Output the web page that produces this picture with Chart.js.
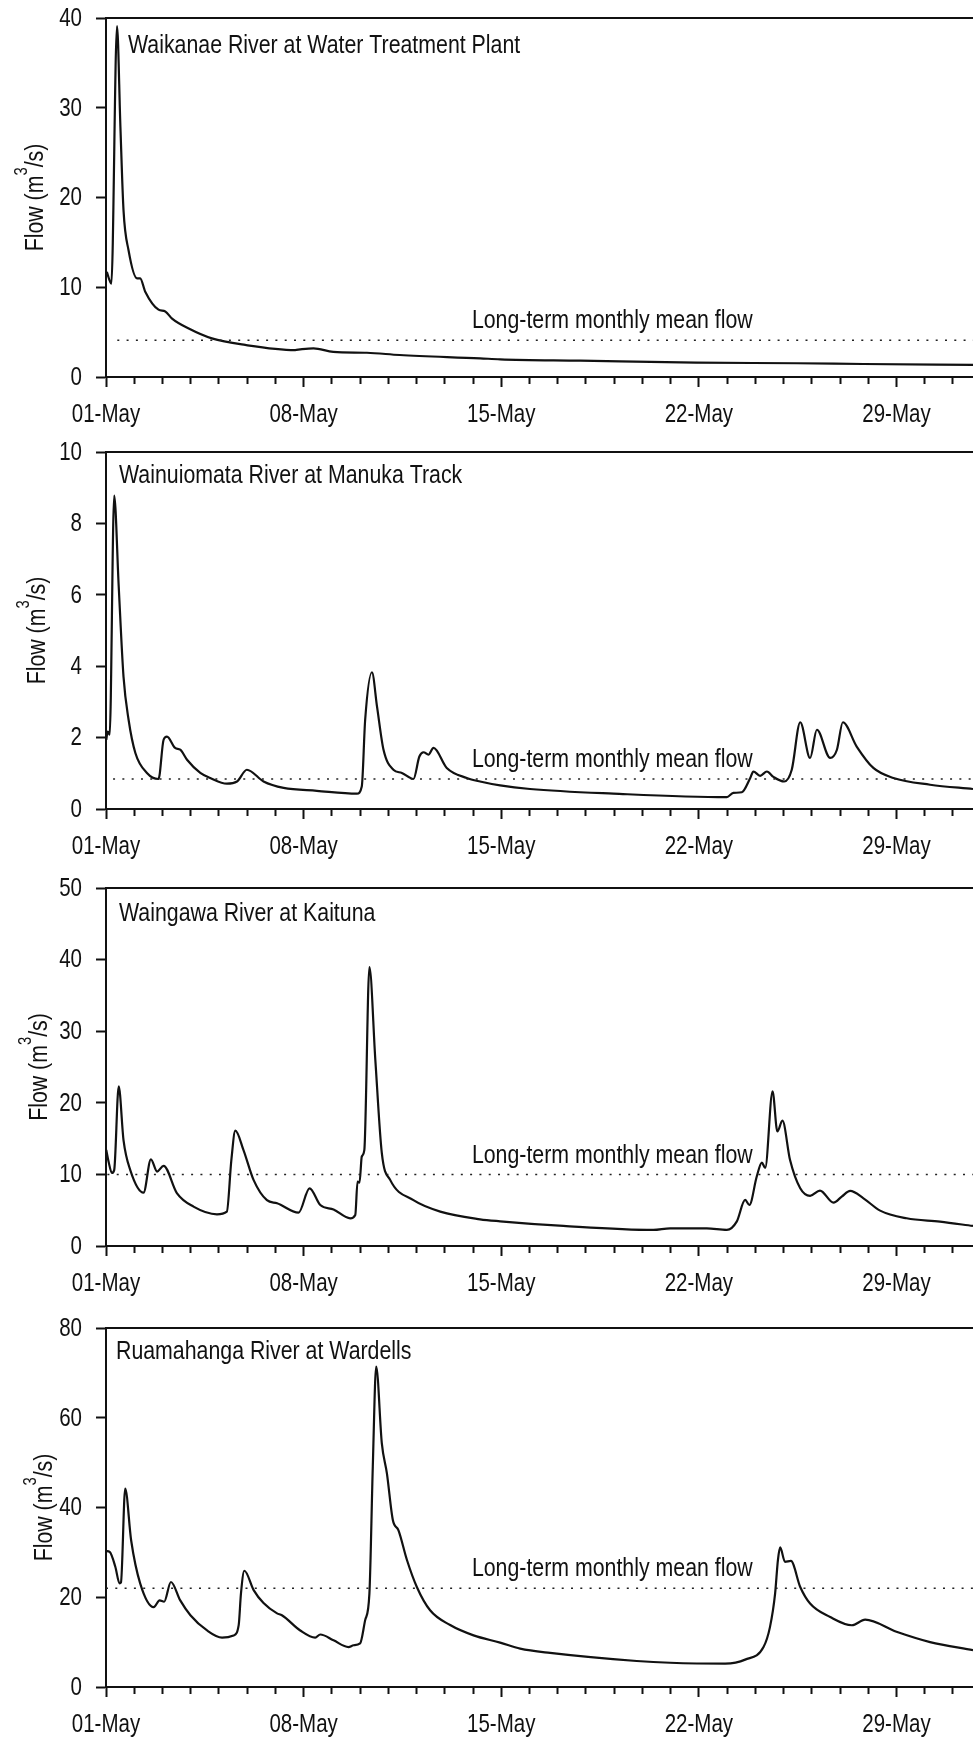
<!DOCTYPE html>
<html>
<head>
<meta charset="utf-8">
<script src="https://cdn.jsdelivr.net/npm/chart.js@4.4.1/dist/chart.umd.min.js"></script>
<style>
  body { margin: 0; background: #fff; }
  #wrap { position: relative; width: 973px; height: 1742px; overflow: hidden; }
  #wrap canvas { position: absolute; left: 0; }
</style>
</head>
<body>
<div id="wrap"></div>
<script>
// x values are days after 01-May 00:00
const dateLabels = ['01-May', '08-May', '15-May', '22-May', '29-May'];
const stationNames = [
    'Waikanae River at Water Treatment Plant',
    'Wainuiomata River at Manuka Track',
    'Waingawa River at Kaituna',
    'Ruamahanga River at Wardells'
];
const meanFlow = [4.1, 0.84, 10, 22];
const meanStart = [0.4, 0.25, 0.05, 0];
const yMax = [40, 10, 50, 80];
const yStep = [10, 2, 10, 20];

const waikanaeDay = [0.03, 0.19, 0.39, 0.51, 0.62, 0.8, 1.1, 1.21, 1.39, 1.86, 2.1, 2.34, 2.93, 3.75, 4.93, 6.7, 6.88, 7.35, 8.05, 9.24, 10.4, 13.25, 13.96, 16.8, 20.9, 24.47, 26.83, 30.71];
const waikanaeFlow = [11.7, 10.4, 39.1, 27.9, 18.6, 14.1, 11.0, 11.0, 9.5, 7.5, 7.3, 6.5, 5.4, 4.3, 3.57, 3.0, 3.08, 3.2, 2.8, 2.7, 2.45, 2.08, 1.97, 1.82, 1.6, 1.53, 1.45, 1.34];

const wainuiomataDay = [0.01, 0.06, 0.13, 0.29, 0.45, 0.62, 0.8, 1.04, 1.45, 1.86, 2.04, 2.16, 2.45, 2.63, 2.87, 3.34, 3.69, 4.28, 4.64, 4.99, 5.58, 6.29, 7.47, 8.89, 9.06, 9.18, 9.42, 9.6, 9.83, 10.18, 10.48, 10.89, 11.1, 11.25, 11.42, 11.6, 12.07, 12.78, 13.25, 13.96, 15.02, 17.97, 21.99, 22.22, 22.52, 22.82, 22.93, 23.17, 23.41, 23.64, 24.02, 24.29, 24.59, 24.94, 25.18, 25.65, 25.89, 26.1, 26.59, 27.18, 27.89, 29.19, 30.71];
const wainuiomataFlow = [1.94, 2.17, 2.08, 8.78, 6.24, 3.71, 2.5, 1.57, 1.01, 0.84, 1.94, 2.03, 1.71, 1.66, 1.38, 1.01, 0.87, 0.71, 0.77, 1.1, 0.77, 0.59, 0.51, 0.43, 0.63, 2.5, 3.83, 2.87, 1.66, 1.1, 1.01, 0.84, 1.47, 1.59, 1.52, 1.71, 1.15, 0.87, 0.77, 0.66, 0.56, 0.43, 0.33, 0.45, 0.47, 0.87, 1.05, 0.93, 1.05, 0.9, 0.77, 1.1, 2.43, 1.43, 2.22, 1.43, 1.66, 2.43, 1.75, 1.15, 0.87, 0.68, 0.56];

const waingawaDay = [0.01, 0.09, 0.21, 0.29, 0.45, 0.62, 0.86, 1.33, 1.59, 1.81, 2.04, 2.51, 3.1, 3.93, 4.28, 4.44, 4.58, 4.87, 5.23, 5.7, 6.06, 6.82, 7.21, 7.59, 8.06, 8.65, 8.83, 8.91, 8.98, 9.06, 9.15, 9.33, 9.54, 9.77, 10.07, 10.89, 11.84, 13.25, 13.96, 16.2, 19.39, 19.98, 21.28, 21.99, 22.34, 22.64, 22.79, 23.05, 23.23, 23.35, 23.61, 23.78, 23.96, 24.23, 24.59, 24.94, 25.29, 25.77, 26.06, 26.36, 26.83, 27.42, 28.36, 29.54, 30.71];
const waingawaFlow = [13.4, 11.8, 10.2, 10.6, 22.3, 14.8, 10.6, 7.45, 12.1, 10.4, 11.2, 7.4, 5.5, 4.43, 4.8, 12.0, 16.1, 13.4, 9.2, 6.4, 5.97, 4.66, 8.06, 5.73, 5.1, 3.87, 4.33, 9.0, 8.85, 12.5, 13.4, 38.95, 26.0, 12.96, 9.2, 6.4, 4.8, 3.73, 3.45, 2.8, 2.24, 2.47, 2.47, 2.24, 3.4, 6.43, 5.73, 9.7, 11.65, 10.9, 21.6, 16.0, 17.5, 12.0, 8.06, 7.0, 7.74, 6.06, 6.9, 7.7, 6.66, 4.94, 3.87, 3.4, 2.8];

const ruamahangaDay = [0.01, 0.13, 0.33, 0.48, 0.53, 0.68, 0.89, 1.21, 1.69, 1.9, 2.06, 2.3, 2.63, 2.99, 3.58, 4.11, 4.52, 4.7, 4.78, 4.9, 5.23, 5.58, 6.06, 6.23, 6.88, 7.41, 7.59, 8.06, 8.59, 8.77, 9.0, 9.18, 9.33, 9.45, 9.57, 9.77, 9.95, 10.16, 10.36, 10.66, 11.01, 11.48, 12.19, 13.02, 13.96, 14.67, 15.73, 18.8, 19.98, 21.93, 22.64, 23.29, 23.52, 23.7, 23.8, 23.88, 24.05, 24.26, 24.59, 24.94, 25.65, 26.42, 26.89, 28.0, 29.19, 30.71];
const ruamahangaFlow = [30.3, 30.1, 26.8, 23.1, 23.3, 44.2, 32.7, 23.1, 17.8, 19.3, 19.0, 23.4, 19.3, 16.0, 12.6, 11.0, 11.5, 13.8, 20.8, 25.9, 21.6, 18.7, 16.4, 16.0, 12.6, 11.0, 11.7, 10.4, 8.9, 9.3, 9.7, 14.9, 20.8, 49.1, 71.4, 54.3, 47.6, 37.2, 34.9, 28.3, 22.3, 17.1, 13.8, 11.5, 9.9, 8.56, 7.6, 5.8, 5.4, 5.2, 6.1, 8.9, 13.4, 20.8, 28.3, 31.1, 27.9, 28.1, 22.3, 18.6, 15.6, 13.76, 15.0, 12.3, 10.0, 8.2];

const seriesDays = [waikanaeDay, wainuiomataDay, waingawaDay, ruamahangaDay];
const seriesFlow = [waikanaeFlow, wainuiomataFlow, waingawaFlow, ruamahangaFlow];

// layout of the four panels
const plotTop = [18, 452, 888, 1328];
const plotHeight = [359, 357, 358, 359];
const xEnd = 30.71;
const nameOffset = [[22, 35], [13, 31], [13, 33], [10, 31]];
const meanLabelDay = 12.96;
const meanLabelLift = [12, 12, 11, 12];
const titleX = [43, 45, 47, 52];

function hasFont(name) {
    const c = document.createElement('canvas').getContext('2d');
    const s = 'Waikanae River at Water 0123';
    c.font = '40px monospace';
    const base = c.measureText(s).width;
    c.font = '40px "' + name + '", monospace';
    return c.measureText(s).width !== base;
}

// the original uses a narrow sans; squeeze a regular one if no narrow face exists
let family = '"Liberation Sans", Arial, sans-serif';
let squeeze = 0.82;
if (hasFont('Liberation Sans Narrow')) {
    family = '"Liberation Sans Narrow", sans-serif';
    squeeze = 1;
} else if (hasFont('Arial Narrow')) {
    family = '"Arial Narrow", sans-serif';
    squeeze = 1;
}
const tickSize = 25;
const textSize = 26;
const supSize = 18;
const ink = '#111';

function drawText(ctx, str, x, y, size, align, baseline) {
    ctx.save();
    ctx.font = size + 'px ' + family;
    ctx.textAlign = align;
    ctx.textBaseline = baseline;
    ctx.translate(x, y);
    ctx.scale(squeeze, 1);
    ctx.fillText(str, 0, 0);
    ctx.restore();
}

const panelDecor = {
    id: 'panelDecor',
    afterDraw(chart, args, opts) {
        const ctx = chart.ctx;
        const a = chart.chartArea;
        const x = chart.scales.x;
        const y = chart.scales.y;
        const i = opts.panel;
        ctx.save();
        // top frame line
        ctx.strokeStyle = ink;
        ctx.lineWidth = 2;
        ctx.beginPath();
        ctx.moveTo(a.left, a.top);
        ctx.lineTo(a.right, a.top);
        ctx.stroke();
        ctx.fillStyle = ink;

        // tick labels
        y.ticks.forEach(t => {
            drawText(ctx, t.label, a.left - 24, y.getPixelForValue(t.value) + 1, tickSize, 'right', 'middle');
        });
        x.ticks.forEach(t => {
            if (t.label) {
                drawText(ctx, t.label, x.getPixelForValue(t.value), a.bottom + 38, tickSize, 'center', 'middle');
            }
        });

        drawText(ctx, stationNames[i], a.left + nameOffset[i][0], a.top + nameOffset[i][1], textSize, 'left', 'alphabetic');
        drawText(ctx, 'Long-term monthly mean flow', x.getPixelForValue(meanLabelDay),
            y.getPixelForValue(meanFlow[i]) - meanLabelLift[i], textSize, 'left', 'alphabetic');

        // y axis title with raised 3
        const mid = (a.top + a.bottom) / 2;
        const big = textSize + 'px ' + family;
        const small = supSize + 'px ' + family;
        ctx.font = big;
        const w1 = ctx.measureText('Flow (m').width * squeeze;
        const w3 = ctx.measureText('/s)').width * squeeze;
        ctx.font = small;
        const w2 = ctx.measureText('3').width * squeeze;
        const total = w1 + w2 + w3;
        ctx.translate(titleX[i], mid);
        ctx.rotate(-Math.PI / 2);
        let cx = -total / 2;
        drawText(ctx, 'Flow (m', cx, 0, textSize, 'left', 'alphabetic');
        cx += w1;
        drawText(ctx, '3', cx, -16, supSize, 'left', 'alphabetic');
        cx += w2;
        drawText(ctx, '/s)', cx, 0, textSize, 'left', 'alphabetic');
        ctx.restore();
    }
};

function makePanel(i) {
    const xAxisH = 54;
    const h = 18 + plotHeight[i] + xAxisH;
    const canvas = document.createElement('canvas');
    canvas.width = 973;
    canvas.height = h;
    canvas.style.top = (plotTop[i] - 18) + 'px';
    canvas.style.width = '973px';
    canvas.style.height = h + 'px';
    document.getElementById('wrap').appendChild(canvas);

    const flowPoints = seriesDays[i].map((d, k) => ({ x: d, y: seriesFlow[i][k] }));
    const meanPoints = [{ x: meanStart[i], y: meanFlow[i] }, { x: xEnd, y: meanFlow[i] }];

    new Chart(canvas.getContext('2d'), {
        type: 'line',
        data: {
            datasets: [{
                data: meanPoints,
                borderColor: '#222',
                borderWidth: 1.5,
                borderDash: [2, 7.3],
                pointRadius: 0,
                fill: false
            }, {
                data: flowPoints,
                borderColor: ink,
                borderWidth: 2.2,
                pointRadius: 0,
                cubicInterpolationMode: 'monotone',
                fill: false
            }]
        },
        options: {
            responsive: false,
            animation: false,
            devicePixelRatio: 1,
            events: [],
            layout: { padding: { top: 18, left: 0, right: 0, bottom: 0 } },
            plugins: {
                legend: { display: false },
                tooltip: { enabled: false },
                panelDecor: { panel: i }
            },
            scales: {
                x: {
                    type: 'linear',
                    bounds: 'data',
                    min: 0,
                    max: xEnd,
                    afterFit: (scale) => { scale.height = xAxisH; },
                    border: { display: true, color: ink, width: 2 },
                    grid: {
                        drawOnChartArea: false,
                        drawTicks: true,
                        tickLength: 10,
                        tickWidth: 2,
                        tickColor: ink,
                        tickBorderDash: (c) => (c.tick && c.tick.value % 7 === 0) ? [] : [6, 40]
                    },
                    ticks: {
                        display: false,
                        stepSize: 1,
                        autoSkip: false,
                        maxRotation: 0,
                        includeBounds: false,
                        callback: (v) => v % 7 === 0 ? dateLabels[v / 7] : ''
                    }
                },
                y: {
                    min: 0,
                    max: yMax[i],
                    afterFit: (scale) => { scale.width = 106; },
                    border: { display: true, color: ink, width: 2 },
                    grid: {
                        drawOnChartArea: false,
                        drawTicks: true,
                        tickLength: 10,
                        tickWidth: 2,
                        tickColor: ink
                    },
                    ticks: {
                        display: false,
                        stepSize: yStep[i]
                    }
                }
            }
        },
        plugins: [panelDecor]
    });
}

for (let i = 0; i < 4; i++) {
    makePanel(i);
}
</script>
</body>
</html>
